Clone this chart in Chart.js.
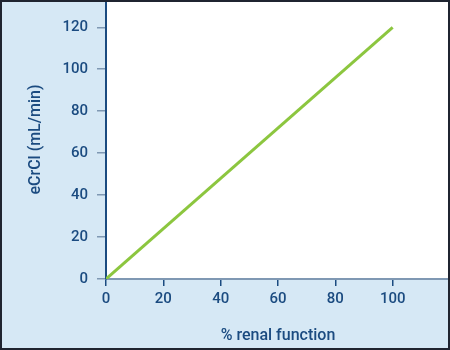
<!DOCTYPE html>
<html>
<head>
<meta charset="utf-8">
<script src="https://cdn.jsdelivr.net/npm/chart.js@4"></script>
<style>
  html, body { margin: 0; padding: 0; background: #d6e8f5; }
  canvas { display: block; }
</style>
</head>
<body>
<canvas id="c" width="450" height="350"></canvas>
<script>
// Data
const renalFunction = [0, 100];      // % renal function (x)
const eCrCl = [0, 120];              // eCrCl mL/min (y)
const xTicks = [0, 20, 40, 60, 80, 100];
const yTicks = [0, 20, 40, 60, 80, 100, 120];
const xTitle = '% renal function';
const yTitle = 'eCrCl (mL/min)';

const navy = '#1b4b80';
const grayBlue = '#7f98b3';
const bgBlue = '#d6e8f5';

const bgPlugin = {
  id: 'bg',
  beforeDraw(chart) {
    const { ctx, chartArea: a } = chart;
    ctx.save();
    ctx.fillStyle = bgBlue;
    ctx.fillRect(0, 0, chart.width, chart.height);
    ctx.fillStyle = '#ffffff';
    ctx.fillRect(a.left, a.top, a.right - a.left, a.bottom - a.top);
    ctx.restore();
  },
  afterDraw(chart) {
    const { ctx } = chart;
    ctx.save();
    ctx.strokeStyle = '#1f2430';
    ctx.lineWidth = 2;
    ctx.strokeRect(1, 1, chart.width - 2, chart.height - 2);
    ctx.restore();
  }
};

const fontTick = { family: 'Roboto', size: 15, weight: '500' };
const fontTitle = { family: 'Roboto', size: 16, weight: '500' };

new Chart(document.getElementById('c'), {
  type: 'line',
  data: {
    datasets: [{
      data: renalFunction.map((x, i) => ({ x: x, y: eCrCl[i] })),
      borderColor: '#8cc63f',
      borderWidth: 3,
      pointRadius: 0,
      tension: 0
    }]
  },
  options: {
    responsive: false,
    devicePixelRatio: 1,
    animation: false,
    layout: { padding: 0 },
    plugins: { legend: { display: false }, tooltip: { enabled: false } },
    scales: {
      x: {
        type: 'linear',
        min: 0,
        max: 120,
        afterBuildTicks(s) { s.ticks = xTicks.map(v => ({ value: v })); },
        afterFit(s) { s.height = 71; s.paddingLeft = 0; s.paddingRight = 0; },
        grid: { drawOnChartArea: false, drawTicks: true, tickLength: 7, color: navy, lineWidth: 1.5 },
        border: { color: grayBlue, width: 2 },
        ticks: { color: navy, font: fontTick, padding: 4 },
        title: { display: true, text: xTitle, color: navy, font: fontTitle, padding: { top: 10 } }
      },
      y: {
        min: 0,
        max: 133,
        afterBuildTicks(s) { s.ticks = yTicks.map(v => ({ value: v })); },
        afterFit(s) { s.width = 106; s.paddingTop = 0; s.paddingBottom = 0; },
        grid: { drawOnChartArea: false, drawTicks: true, tickLength: 9, color: grayBlue, lineWidth: 1.5 },
        border: { color: navy, width: 2 },
        ticks: { color: navy, font: fontTick, padding: 9 },
        title: { display: true, text: yTitle, color: navy, font: fontTitle, padding: { top: 26, bottom: 0 } }
      }
    }
  },
  plugins: [bgPlugin]
});
</script>
</body>
</html>
